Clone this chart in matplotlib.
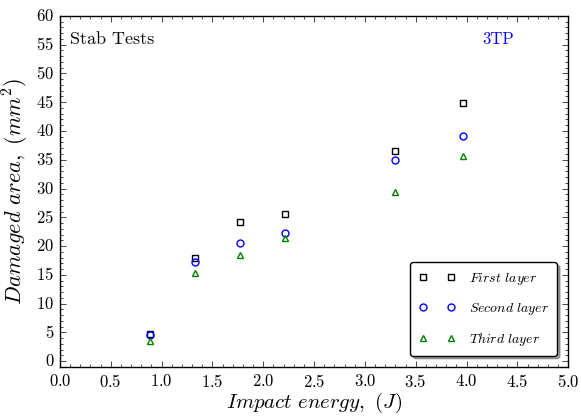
import matplotlib
matplotlib.use("Agg")
import matplotlib.pyplot as plt

plt.style.use("classic")
plt.rcParams["font.family"] = "serif"
plt.rcParams["font.serif"] = ["cmr10"]
plt.rcParams["mathtext.fontset"] = "cm"
plt.rcParams["axes.formatter.use_mathtext"] = True

energy = [0.89, 1.33, 1.77, 2.21, 3.30, 3.97]
first_layer = [4.7, 18.0, 24.2, 25.5, 36.5, 44.8]
second_layer = [4.5, 17.3, 20.6, 22.2, 35.0, 39.1]
third_layer = [3.5, 15.3, 18.5, 21.4, 29.4, 35.6]

fig = plt.figure(figsize=(5.81, 4.17), dpi=100)
ax = fig.add_axes([0.103, 0.120, 0.875, 0.842])

ax.plot(energy, first_layer, "s", mfc="none", mec="black", ms=5, mew=1,
        label=r"$First\ layer$")
ax.plot(energy, second_layer, "o", mfc="none", mec="blue", ms=5, mew=1,
        label=r"$Second\ layer$")
ax.plot(energy, third_layer, "^", mfc="none", mec="green", ms=4, mew=1,
        label=r"$Third\ layer$")

ax.set_xlim(0, 5)
ax.set_ylim(-1, 60)
ax.set_xticks([0.0, 0.5, 1.0, 1.5, 2.0, 2.5, 3.0, 3.5, 4.0, 4.5, 5.0])
ax.set_yticks(range(0, 61, 5))
ax.minorticks_on()
ax.tick_params(labelsize=12)

ax.set_xlabel(r"$Impact\ energy,\ (J)$", fontsize=15, labelpad=1)
ax.set_ylabel(r"$Damaged\ area,\ (mm^2)$", fontsize=16, labelpad=4)

ax.text(0.02, 0.955, "Stab Tests", transform=ax.transAxes, fontsize=13,
        va="top", ha="left")
ax.text(0.83, 0.955, "3TP", transform=ax.transAxes, fontsize=12,
        va="top", ha="left", color="blue")

leg = ax.legend(loc="lower right", numpoints=2, fancybox=True, shadow=True,
                fontsize=10, labelspacing=1.0, borderpad=0.6,
                handlelength=2.6, handletextpad=1.0, borderaxespad=0.8)

fig.savefig("out.png", dpi=100)
